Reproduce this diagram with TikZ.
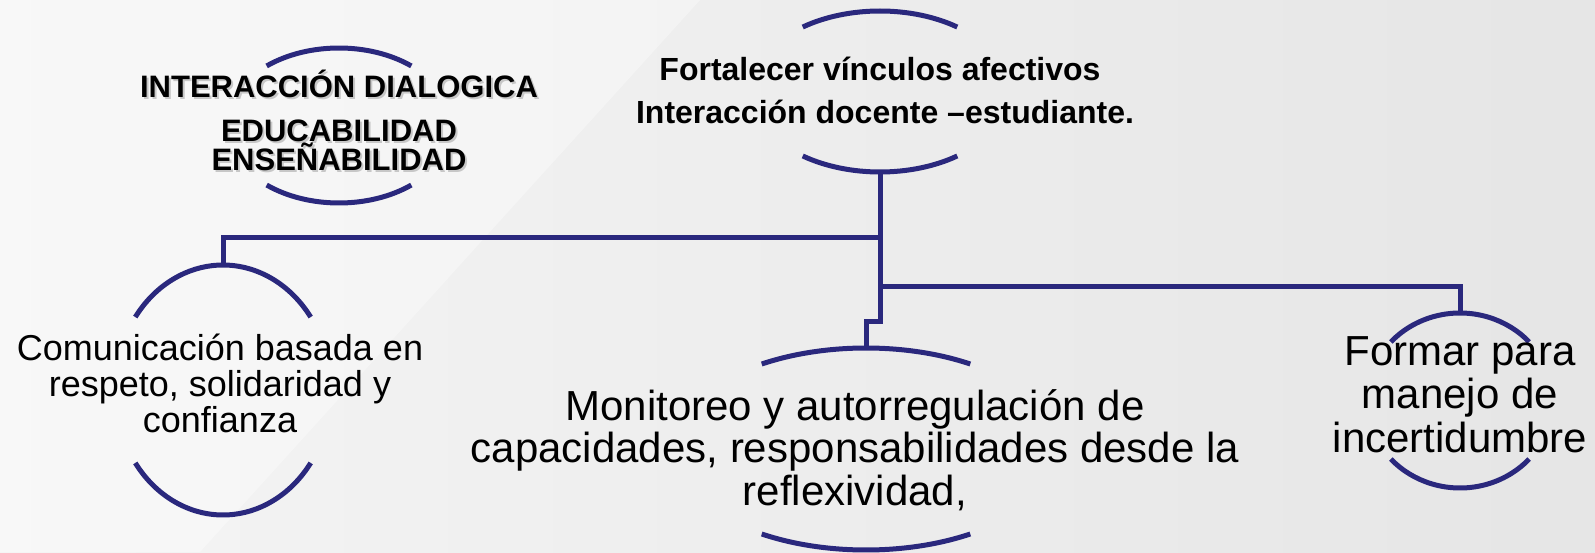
\documentclass[tikz,border=0pt]{standalone}
\usepackage{fontspec}
\setmainfont{Liberation Sans}
\definecolor{navyline}{RGB}{42,40,125}
\tikzset{
  branch/.style={navyline, line width=5pt},
  bracket/.style={navyline, line width=5pt},
  boxtext/.style={align=center, inner sep=0pt, anchor=base},
}
\begin{document}
\begin{tikzpicture}[x=1pt,y=1pt]
    \useasboundingbox (0,0) rectangle (1595,552);
    \shade[left color=black!4, right color=black!10] (0,0) rectangle (1595,552);
    \fill[white,opacity=0.35] (0,552) -- (700,552) -- (200,0) -- (0,0) -- cycle;

    % centres of the bracket pairs
    \coordinate (fort) at (880,460.5);
    \coordinate (inter) at (339,426.5);
    \coordinate (com) at (223,162);
    \coordinate (mon) at (866,103);
    \coordinate (form) at (1460,151.5);

    % arc ends the connectors meet
    \coordinate (fort-s) at (880.5,380);
    \coordinate (com-n) at (223,287);
    \coordinate (mon-n) at (866,204);
    \coordinate (form-n) at (1460,239);
    \coordinate (junL) at (880.5,314);
    \coordinate (junR) at (880.5,265);

    % Draw bracket arcs
    \foreach \c/\rx/\ry/\a in {fort/129/80.5/53.2, inter/113/77.5/50.2, com/108/125/35.7, mon/193/101/57.3, form/93/87.5/42} {
        \draw[bracket] ([shift={(\a:\rx pt and \ry pt)}]\c) arc[start angle=\a, end angle=180-\a, x radius=\rx pt, y radius=\ry pt];
        \draw[bracket] ([shift={({180+\a}:\rx pt and \ry pt)}]\c) arc[start angle=180+\a, end angle=360-\a, x radius=\rx pt, y radius=\ry pt];
    }

    % Connectors
    \draw[branch] (fort-s) -- ++(0,-150) -| (mon-n);
    \draw[branch] (junL) -| (com-n);
    \draw[branch] (junR) -| (form-n);

    % Texts
    \node[boxtext, font=\bfseries\fontsize{32}{43}\selectfont] (fortText) at (880,428) {Fortalecer vínculos afectivos\\ \hspace*{10pt}Interacción docente –estudiante.};
    \node[boxtext, text=black!22, font=\bfseries\fontsize{31}{29}\selectfont] (interShadow) at (341,379) {INTERACCIÓN DIALOGICA\\[15pt] EDUCABILIDAD\\ ENSEÑABILIDAD};
    \node[boxtext, font=\bfseries\fontsize{31}{29}\selectfont] (interText) at (339,381) {INTERACCIÓN DIALOGICA\\[15pt] EDUCABILIDAD\\ ENSEÑABILIDAD};
    \node[boxtext, font=\fontsize{36}{36}\selectfont] (comText) at (220,120) {Comunicación basada en\\ respeto, solidaridad y\\ confianza};
    \node[boxtext, font=\fontsize{42}{42.5}\selectfont] (monText) at (855,47) {Monitoreo y autorregulación de\\ capacidades, responsabilidades desde la\\ reflexividad,};
    \node[boxtext, font=\fontsize{42}{43.5}\selectfont] (formText) at (1460,100) {Formar para\\ manejo de\\ incertidumbre};

\end{tikzpicture}
\end{document}
